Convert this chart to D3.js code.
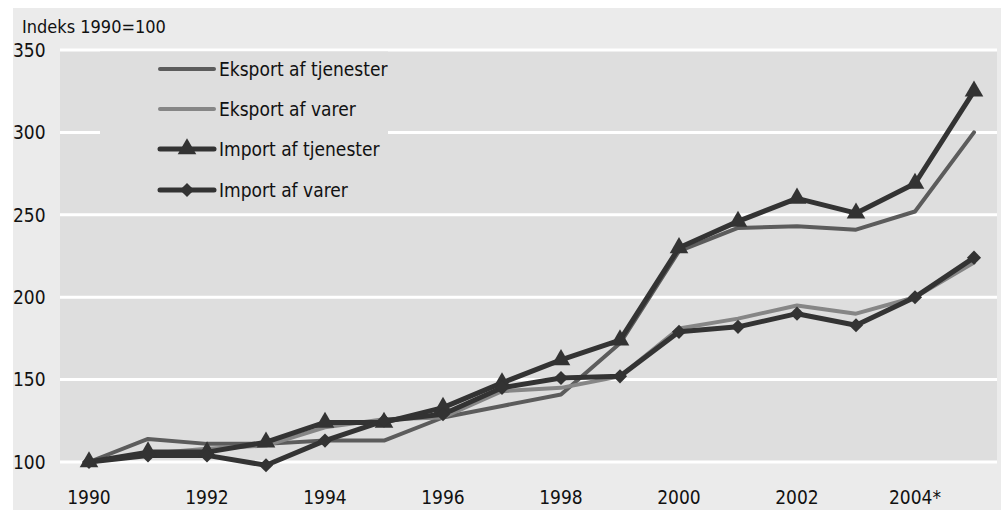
<!DOCTYPE html>
<html><head><meta charset="utf-8">
<script src="https://cdn.jsdelivr.net/npm/d3@7"></script>
<style>
html,body{margin:0;padding:0;background:#fff;}
svg{display:block;}
text{font-family:"Liberation Sans Narrow","DejaVu Sans Condensed","Noto Sans",sans-serif;fill:#111;}
</style></head>
<body>
<svg id="c" width="1001" height="510"></svg>
<script>
const years = [1990,1991,1992,1993,1994,1995,1996,1997,1998,1999,2000,2001,2002,2003,2004,2005];
const xTickYears = [1990,1992,1994,1996,1998,2000,2002,2004];
const xTickLabels = ["1990","1992","1994","1996","1998","2000","2002","2004*"];
const yTicks = [100,150,200,250,300,350];
const seriesNames = ["Eksport af tjenester","Eksport af varer","Import af tjenester","Import af varer"];
const eksportTjenester = [100,114,111,111,113,113,127,134,141,172,228,242,243,241,252,300];
const eksportVarer     = [100,105,108,110,121,126,127,143,145,152,181,187,195,190,200,221];
const importTjenester  = [100,106,106,112,124,124,133,148,162,174,230,246,260,251,269,325];
const importVarer      = [100,104,104,98,113,125,129,145,151,152,179,182,190,183,200,224];

const svg = d3.select("#c");
const W = 1001, H = 510;
const plot = {l:60, r:997, t:50, b:462};

svg.append("rect").attr("x",13).attr("y",8).attr("width",W-13).attr("height",H-8).attr("fill","#ebebeb");
svg.append("rect").attr("x",plot.l).attr("y",plot.t).attr("width",plot.r-plot.l).attr("height",plot.b-plot.t).attr("fill","#dedede");

const x = d3.scaleLinear().domain([1990,2005]).range([89,974]);
const y = d3.scaleLinear().domain([100,350]).range([plot.b,plot.t]);

// gridlines
svg.append("g").selectAll("line").data(yTicks).join("line")
  .attr("x1",plot.l).attr("x2",plot.r).attr("y1",d=>y(d)).attr("y2",d=>y(d))
  .attr("stroke","#fff").attr("stroke-width",3);

// y labels
svg.append("g").selectAll("text").data(yTicks).join("text")
  .attr("x",13).attr("y",d=>y(d)).attr("dy","0.36em")
  .style("font-size","19px").text(d=>d);

// x labels
svg.append("g").selectAll("text").data(xTickYears).join("text")
  .attr("x",d=>x(d)).attr("y",504).attr("text-anchor","middle")
  .style("font-size","19px").text((d,i)=>xTickLabels[i]);

svg.append("text").attr("x",22).attr("y",33).style("font-size","18px").text("Indeks 1990=100");

// legend box
svg.append("rect").attr("x",100).attr("y",51.5).attr("width",288).attr("height",152).attr("fill","#dedede");

const series = [
  {name:seriesNames[0], vals:eksportTjenester, color:"#5c5c5c", w:4, sym:null},
  {name:seriesNames[1], vals:eksportVarer, color:"#868686", w:4, sym:null},
  {name:seriesNames[2], vals:importTjenester, color:"#333333", w:5, sym:"tri"},
  {name:seriesNames[3], vals:importVarer, color:"#333333", w:5, sym:"dia"}
];

function symPath(kind){
  return kind==="tri" ? d3.symbol().type(d3.symbolTriangle).size(150)()
                      : d3.symbol().type(d3.symbolSquare).size(100)();
}
function symTransform(kind, cx, cy){
  return kind==="tri" ? `translate(${cx},${cy})` : `translate(${cx},${cy}) rotate(45)`;
}

const line = d3.line().x((d,i)=>x(years[i])).y(d=>y(d));
series.forEach(s=>{
  svg.append("path").datum(s.vals).attr("d",line).attr("fill","none")
    .attr("stroke",s.color).attr("stroke-width",s.w).attr("stroke-linejoin","round").attr("stroke-linecap","round");
});
series.forEach(s=>{
  if(!s.sym) return;
  svg.append("g").selectAll("path").data(s.vals).join("path")
    .attr("d",symPath(s.sym))
    .attr("transform",(d,i)=>symTransform(s.sym, x(years[i]), y(d)))
    .attr("fill",s.color);
});

// legend
const legY = [69,109,149,190];
series.forEach((s,i)=>{
  const g = svg.append("g").attr("transform",`translate(0,${legY[i]})`);
  g.append("line").attr("x1",160).attr("x2",214).attr("y1",0).attr("y2",0)
    .attr("stroke",s.color).attr("stroke-width",s.w).attr("stroke-linecap","round");
  if(s.sym){
    g.append("path").attr("d",symPath(s.sym))
      .attr("transform",symTransform(s.sym,187,0)).attr("fill",s.color);
  }
  g.append("text").attr("x",219).attr("y",0).attr("dy","0.36em").style("font-size","19px").text(s.name);
});
</script>
</body></html>
